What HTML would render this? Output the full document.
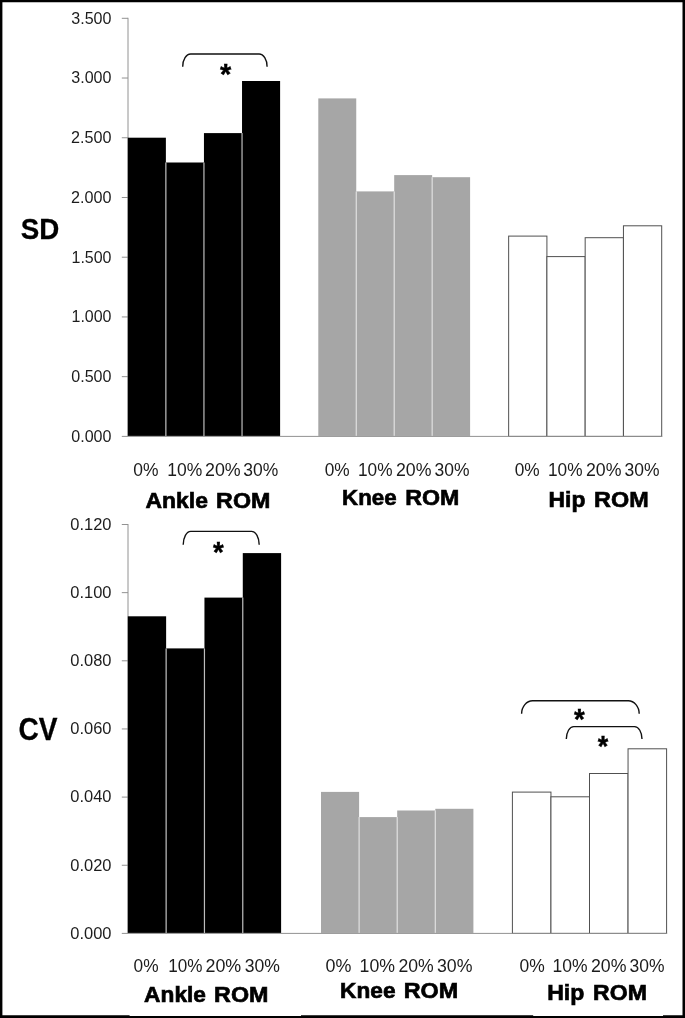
<!DOCTYPE html>
<html lang="en"><head><meta charset="utf-8"><title>ROM variability</title>
<style>html,body{margin:0;padding:0;background:#fff}svg{display:block}text{font-family:"Liberation Sans",sans-serif;fill:#1c1c1c}.b{font-weight:bold;fill:#000;stroke:#000;stroke-width:.65}.c{font-weight:bold;fill:#000;stroke:#000;stroke-width:.3}.s{font-weight:bold;fill:#000;stroke:#000;stroke-width:.4}.ax{stroke:#929292;stroke-width:1;fill:none}.br{stroke:#111;stroke-width:1.4;fill:none}</style></head><body>
<svg width="685" height="1018" viewBox="0 0 685 1018">
<rect x="0" y="0" width="685" height="1018" fill="#fff"/>
<line class="ax" x1="128" y1="17.8" x2="128" y2="436.4"/>
<line class="ax" x1="121.8" y1="18.30" x2="128" y2="18.30"/>
<line class="ax" x1="121.8" y1="78.03" x2="128" y2="78.03"/>
<line class="ax" x1="121.8" y1="137.76" x2="128" y2="137.76"/>
<line class="ax" x1="121.8" y1="197.49" x2="128" y2="197.49"/>
<line class="ax" x1="121.8" y1="257.21" x2="128" y2="257.21"/>
<line class="ax" x1="121.8" y1="316.94" x2="128" y2="316.94"/>
<line class="ax" x1="121.8" y1="376.67" x2="128" y2="376.67"/>
<rect x="127.80" y="137.70" width="38.08" height="298.25" fill="#000"/>
<rect x="165.88" y="162.50" width="38.08" height="273.45" fill="#000"/>
<rect x="203.95" y="133.10" width="38.08" height="302.85" fill="#000"/>
<rect x="242.03" y="81.00" width="38.08" height="354.95" fill="#000"/>
<line x1="165.88" y1="162.50" x2="165.88" y2="435.95" stroke="#bcbcbc" stroke-width="1.2"/>
<line x1="203.95" y1="162.50" x2="203.95" y2="435.95" stroke="#bcbcbc" stroke-width="1.2"/>
<line x1="242.03" y1="133.10" x2="242.03" y2="435.95" stroke="#bcbcbc" stroke-width="1.2"/>
<rect x="318.30" y="98.40" width="37.95" height="337.55" fill="#a6a6a6"/>
<rect x="356.25" y="191.40" width="37.95" height="244.55" fill="#a6a6a6"/>
<rect x="394.20" y="175.10" width="37.95" height="260.85" fill="#a6a6a6"/>
<rect x="432.15" y="177.20" width="37.95" height="258.75" fill="#a6a6a6"/>
<line x1="356.25" y1="191.40" x2="356.25" y2="435.95" stroke="#dedede" stroke-width="1.2"/>
<line x1="394.20" y1="191.40" x2="394.20" y2="435.95" stroke="#dedede" stroke-width="1.2"/>
<line x1="432.15" y1="177.20" x2="432.15" y2="435.95" stroke="#dedede" stroke-width="1.2"/>
<rect x="508.65" y="236.10" width="38.26" height="200.30" fill="#fff" stroke="#505050" stroke-width="1"/>
<rect x="546.91" y="256.60" width="38.26" height="179.80" fill="#fff" stroke="#505050" stroke-width="1"/>
<rect x="585.17" y="237.70" width="38.26" height="198.70" fill="#fff" stroke="#505050" stroke-width="1"/>
<rect x="623.44" y="225.80" width="38.26" height="210.60" fill="#fff" stroke="#505050" stroke-width="1"/>
<line class="ax" x1="121.8" y1="436.4" x2="662.2" y2="436.4"/>
<text x="71.26" y="23.85" font-size="16.06" textLength="40.23" lengthAdjust="spacingAndGlyphs">3.500</text>
<text x="71.26" y="83.41" font-size="16.06" textLength="40.23" lengthAdjust="spacingAndGlyphs">3.000</text>
<text x="71.01" y="143.23" font-size="16.06" textLength="40.49" lengthAdjust="spacingAndGlyphs">2.500</text>
<text x="71.01" y="203.04" font-size="16.06" textLength="40.49" lengthAdjust="spacingAndGlyphs">2.000</text>
<text x="71.50" y="262.61" font-size="16.06" textLength="40.00" lengthAdjust="spacingAndGlyphs">1.500</text>
<text x="71.50" y="322.42" font-size="16.06" textLength="40.00" lengthAdjust="spacingAndGlyphs">1.000</text>
<text x="71.26" y="382.24" font-size="16.06" textLength="40.23" lengthAdjust="spacingAndGlyphs">0.500</text>
<text x="71.26" y="441.80" font-size="16.06" textLength="40.23" lengthAdjust="spacingAndGlyphs">0.000</text>
<line class="ax" x1="128" y1="524.0" x2="128" y2="933.4"/>
<line class="ax" x1="121.8" y1="524.50" x2="128" y2="524.50"/>
<line class="ax" x1="121.8" y1="592.65" x2="128" y2="592.65"/>
<line class="ax" x1="121.8" y1="660.80" x2="128" y2="660.80"/>
<line class="ax" x1="121.8" y1="728.95" x2="128" y2="728.95"/>
<line class="ax" x1="121.8" y1="797.10" x2="128" y2="797.10"/>
<line class="ax" x1="121.8" y1="865.25" x2="128" y2="865.25"/>
<rect x="127.80" y="616.30" width="38.33" height="316.65" fill="#000"/>
<rect x="166.12" y="648.40" width="38.33" height="284.55" fill="#000"/>
<rect x="204.45" y="597.60" width="38.33" height="335.35" fill="#000"/>
<rect x="242.78" y="553.10" width="38.33" height="379.85" fill="#000"/>
<line x1="166.12" y1="648.40" x2="166.12" y2="932.95" stroke="#bcbcbc" stroke-width="1.2"/>
<line x1="204.45" y1="648.40" x2="204.45" y2="932.95" stroke="#bcbcbc" stroke-width="1.2"/>
<line x1="242.78" y1="597.60" x2="242.78" y2="932.95" stroke="#bcbcbc" stroke-width="1.2"/>
<rect x="321.00" y="791.90" width="38.10" height="141.05" fill="#a6a6a6"/>
<rect x="359.10" y="817.10" width="38.10" height="115.85" fill="#a6a6a6"/>
<rect x="397.20" y="810.50" width="38.10" height="122.45" fill="#a6a6a6"/>
<rect x="435.30" y="808.80" width="38.10" height="124.15" fill="#a6a6a6"/>
<line x1="359.10" y1="817.10" x2="359.10" y2="932.95" stroke="#dedede" stroke-width="1.2"/>
<line x1="397.20" y1="817.10" x2="397.20" y2="932.95" stroke="#dedede" stroke-width="1.2"/>
<line x1="435.30" y1="810.50" x2="435.30" y2="932.95" stroke="#dedede" stroke-width="1.2"/>
<rect x="512.40" y="792.10" width="38.55" height="141.30" fill="#fff" stroke="#505050" stroke-width="1"/>
<rect x="550.95" y="796.80" width="38.55" height="136.60" fill="#fff" stroke="#505050" stroke-width="1"/>
<rect x="589.50" y="773.50" width="38.55" height="159.90" fill="#fff" stroke="#505050" stroke-width="1"/>
<rect x="628.05" y="748.80" width="38.55" height="184.60" fill="#fff" stroke="#505050" stroke-width="1"/>
<line class="ax" x1="121.8" y1="933.4" x2="667.1" y2="933.4"/>
<text x="70.26" y="530.00" font-size="16.06" textLength="41.24" lengthAdjust="spacingAndGlyphs">0.120</text>
<text x="70.26" y="597.98" font-size="16.06" textLength="41.24" lengthAdjust="spacingAndGlyphs">0.100</text>
<text x="70.26" y="666.22" font-size="16.06" textLength="41.24" lengthAdjust="spacingAndGlyphs">0.080</text>
<text x="70.26" y="734.45" font-size="16.06" textLength="41.24" lengthAdjust="spacingAndGlyphs">0.060</text>
<text x="70.26" y="802.43" font-size="16.06" textLength="41.24" lengthAdjust="spacingAndGlyphs">0.040</text>
<text x="70.26" y="870.67" font-size="16.06" textLength="41.24" lengthAdjust="spacingAndGlyphs">0.020</text>
<text x="70.26" y="938.90" font-size="16.06" textLength="41.24" lengthAdjust="spacingAndGlyphs">0.000</text>
<text x="133.26" y="475.50" font-size="18.94" textLength="25.23" lengthAdjust="spacingAndGlyphs">0%</text>
<text x="167.25" y="475.50" font-size="18.94" textLength="35.00" lengthAdjust="spacingAndGlyphs">10%</text>
<text x="205.01" y="475.50" font-size="18.94" textLength="35.73" lengthAdjust="spacingAndGlyphs">20%</text>
<text x="243.25" y="475.50" font-size="18.94" textLength="34.98" lengthAdjust="spacingAndGlyphs">30%</text>
<text x="324.76" y="475.50" font-size="18.94" textLength="24.98" lengthAdjust="spacingAndGlyphs">0%</text>
<text x="358.00" y="475.50" font-size="18.94" textLength="34.51" lengthAdjust="spacingAndGlyphs">10%</text>
<text x="396.00" y="475.50" font-size="18.94" textLength="35.50" lengthAdjust="spacingAndGlyphs">20%</text>
<text x="434.50" y="475.50" font-size="18.94" textLength="34.99" lengthAdjust="spacingAndGlyphs">30%</text>
<text x="514.76" y="475.50" font-size="18.94" textLength="24.98" lengthAdjust="spacingAndGlyphs">0%</text>
<text x="548.00" y="475.50" font-size="18.94" textLength="34.51" lengthAdjust="spacingAndGlyphs">10%</text>
<text x="586.00" y="475.50" font-size="18.94" textLength="35.50" lengthAdjust="spacingAndGlyphs">20%</text>
<text x="624.50" y="475.50" font-size="18.94" textLength="34.99" lengthAdjust="spacingAndGlyphs">30%</text>
<text x="133.52" y="971.75" font-size="19.03" textLength="24.98" lengthAdjust="spacingAndGlyphs">0%</text>
<text x="168.26" y="971.75" font-size="19.03" textLength="34.25" lengthAdjust="spacingAndGlyphs">10%</text>
<text x="205.50" y="971.75" font-size="19.03" textLength="35.74" lengthAdjust="spacingAndGlyphs">20%</text>
<text x="244.75" y="971.75" font-size="19.03" textLength="35.24" lengthAdjust="spacingAndGlyphs">30%</text>
<text x="325.59" y="971.75" font-size="19.03" textLength="25.86" lengthAdjust="spacingAndGlyphs">0%</text>
<text x="359.59" y="971.75" font-size="19.03" textLength="35.42" lengthAdjust="spacingAndGlyphs">10%</text>
<text x="398.50" y="971.75" font-size="19.03" textLength="35.25" lengthAdjust="spacingAndGlyphs">20%</text>
<text x="437.00" y="971.75" font-size="19.03" textLength="35.49" lengthAdjust="spacingAndGlyphs">30%</text>
<text x="519.51" y="971.75" font-size="19.03" textLength="25.23" lengthAdjust="spacingAndGlyphs">0%</text>
<text x="552.50" y="971.75" font-size="19.03" textLength="35.00" lengthAdjust="spacingAndGlyphs">10%</text>
<text x="591.00" y="971.75" font-size="19.03" textLength="35.50" lengthAdjust="spacingAndGlyphs">20%</text>
<text x="629.50" y="971.75" font-size="19.03" textLength="34.99" lengthAdjust="spacingAndGlyphs">30%</text>
<text x="216.14" y="507.60" font-size="21.53" textLength="54.22" lengthAdjust="spacingAndGlyphs" class="b">ROM</text>
<text x="145.60" y="507.60" font-size="21.53" textLength="62.34" lengthAdjust="spacingAndGlyphs" class="b">Ankle</text>
<text x="405.24" y="504.95" font-size="21.75" textLength="54.12" lengthAdjust="spacingAndGlyphs" class="b">ROM</text>
<text x="342.11" y="504.95" font-size="21.75" textLength="54.54" lengthAdjust="spacingAndGlyphs" class="b">Knee</text>
<text x="594.14" y="507.00" font-size="21.81" textLength="54.58" lengthAdjust="spacingAndGlyphs" class="b">ROM</text>
<text x="548.61" y="507.00" font-size="21.81" textLength="36.74" lengthAdjust="spacingAndGlyphs" class="b">Hip</text>
<text x="214.14" y="1001.55" font-size="21.60" textLength="54.31" lengthAdjust="spacingAndGlyphs" class="b">ROM</text>
<text x="144.10" y="1001.55" font-size="21.60" textLength="61.88" lengthAdjust="spacingAndGlyphs" class="b">Ankle</text>
<text x="403.74" y="998.00" font-size="21.60" textLength="54.58" lengthAdjust="spacingAndGlyphs" class="b">ROM</text>
<text x="340.11" y="998.00" font-size="21.60" textLength="55.39" lengthAdjust="spacingAndGlyphs" class="b">Knee</text>
<text x="593.14" y="999.55" font-size="21.60" textLength="53.77" lengthAdjust="spacingAndGlyphs" class="b">ROM</text>
<text x="547.15" y="999.55" font-size="21.60" textLength="37.15" lengthAdjust="spacingAndGlyphs" class="b">Hip</text>
<text x="20.75" y="239.00" font-size="30.11" textLength="38.50" lengthAdjust="spacingAndGlyphs" class="c">SD</text>
<text x="18.51" y="740.25" font-size="30.44" textLength="38.99" lengthAdjust="spacingAndGlyphs" class="c">CV</text>
<path class="br" d="M182.7 66.7A8 12.7 0 0 1 190.7 54.0H259.1A8 12.7 0 0 1 267.1 66.7"/>
<text x="220.00" y="84.47" font-size="30.38" textLength="11.25" lengthAdjust="spacingAndGlyphs" class="s">*</text>
<path class="br" d="M183.2 544.8A7.5 13.4 0 0 1 190.7 531.4H251.7A7.5 13.4 0 0 1 259.2 544.8"/>
<text x="213.00" y="562.06" font-size="30.34" textLength="10.75" lengthAdjust="spacingAndGlyphs" class="s">*</text>
<path class="br" d="M521.6 713.8A11 13.0 0 0 1 532.6 700.8H628.2A11 13.0 0 0 1 639.2 713.8"/>
<text x="574.00" y="728.88" font-size="29.72" textLength="10.75" lengthAdjust="spacingAndGlyphs" class="s">*</text>
<path class="br" d="M566.3 739.1A7.5 12.5 0 0 1 573.8 726.6H634.5A7.5 12.5 0 0 1 642.0 739.1"/>
<text x="597.76" y="755.72" font-size="30.39" textLength="10.49" lengthAdjust="spacingAndGlyphs" class="s">*</text>
<path d="M0 0H685V1018H0Z M2.4 2.2V1015.2H129.6V1016H301V1015.2H533.2V1016H663V1015.2H682.5V2.2Z" fill="#000" fill-rule="evenodd"/>
</svg></body></html>
